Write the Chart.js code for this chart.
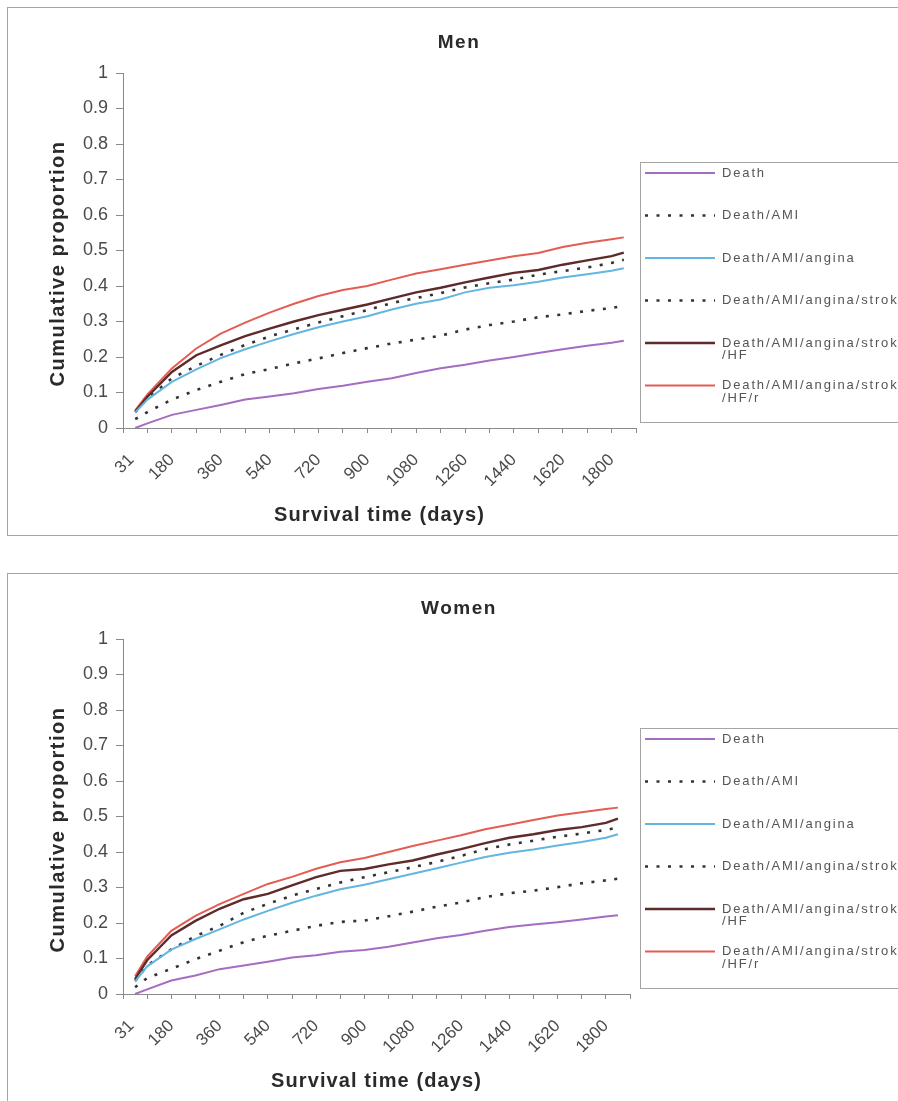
<!DOCTYPE html>
<html><head><meta charset="utf-8">
<script src="https://cdn.jsdelivr.net/npm/chart.js@4.4.1/dist/chart.umd.min.js"></script>
<style>
html,body{margin:0;padding:0;background:#fff;width:898px;height:1101px;overflow:hidden;position:relative;}
.box{position:absolute;left:7px;width:902px;height:527px;border:1px solid #a4a4a4;background:#fff;}
#boxMen{top:7px}
#boxWomen{top:573px}
canvas{display:block}
</style></head><body>
<div class="box" id="boxMen"><canvas id="men" width="902" height="527"></canvas></div>
<div class="box" id="boxWomen"><canvas id="women" width="902" height="527"></canvas></div>
<script>
// ---------- data ----------
const days = [45, 90, 180, 270, 360, 450, 540, 630, 720, 810, 900, 990, 1080, 1170, 1260, 1350, 1440, 1530, 1620, 1710, 1800, 1845];
const seriesNames = ['Death', 'Death/AMI', 'Death/AMI/angina', 'Death/AMI/angina/stroke', 'Death/AMI/angina/stroke/HF', 'Death/AMI/angina/stroke/HF/r'];
const xTickMarks = [0, 90, 180, 270, 360, 450, 540, 630, 720, 810, 900, 990, 1080, 1170, 1260, 1350, 1440, 1530, 1620, 1710, 1800, 1890];
const xTickLabels = ['31', '180', '360', '540', '720', '900', '1080', '1260', '1440', '1620', '1800'];

const menDeath  = [0.000,0.013,0.037,0.051,0.065,0.080,0.089,0.098,0.110,0.119,0.130,0.140,0.155,0.168,0.178,0.190,0.200,0.211,0.222,0.232,0.240,0.246];
const menAmi    = [0.025,0.045,0.080,0.107,0.130,0.152,0.166,0.182,0.196,0.211,0.225,0.238,0.249,0.260,0.277,0.290,0.300,0.312,0.320,0.330,0.338,0.344];
const menAngina = [0.044,0.080,0.130,0.165,0.197,0.222,0.244,0.265,0.284,0.300,0.315,0.334,0.350,0.362,0.382,0.395,0.402,0.412,0.424,0.433,0.443,0.450];
const menStroke = [0.045,0.083,0.140,0.175,0.206,0.234,0.258,0.278,0.297,0.315,0.332,0.352,0.366,0.380,0.396,0.408,0.418,0.432,0.442,0.452,0.465,0.474];
const menHf     = [0.046,0.088,0.158,0.205,0.233,0.259,0.280,0.300,0.318,0.333,0.348,0.365,0.382,0.395,0.410,0.424,0.437,0.445,0.460,0.472,0.484,0.494];
const menHfr    = [0.050,0.095,0.168,0.224,0.266,0.297,0.325,0.350,0.372,0.389,0.400,0.418,0.435,0.447,0.460,0.472,0.484,0.493,0.510,0.522,0.532,0.537];

const womenDeath  = [0.000,0.013,0.038,0.052,0.070,0.080,0.091,0.103,0.109,0.119,0.124,0.133,0.145,0.157,0.166,0.178,0.189,0.196,0.202,0.210,0.218,0.222];
const womenAmi    = [0.019,0.045,0.071,0.098,0.122,0.146,0.164,0.178,0.192,0.203,0.207,0.219,0.232,0.246,0.258,0.273,0.284,0.291,0.301,0.312,0.320,0.325];
const womenAngina = [0.035,0.078,0.125,0.155,0.182,0.210,0.234,0.257,0.277,0.295,0.308,0.323,0.339,0.354,0.370,0.386,0.398,0.407,0.418,0.428,0.440,0.450];
const womenStroke = [0.037,0.080,0.126,0.163,0.192,0.229,0.254,0.277,0.296,0.314,0.329,0.343,0.357,0.372,0.389,0.408,0.421,0.432,0.443,0.452,0.462,0.469];
const womenHf     = [0.042,0.095,0.165,0.206,0.240,0.267,0.282,0.306,0.329,0.347,0.352,0.365,0.376,0.393,0.408,0.425,0.440,0.450,0.462,0.470,0.482,0.494];
const womenHfr    = [0.050,0.105,0.178,0.220,0.253,0.282,0.310,0.330,0.353,0.371,0.383,0.400,0.417,0.432,0.447,0.464,0.477,0.490,0.503,0.512,0.521,0.525];

// ---------- styles ----------
const FONT = '"Liberation Sans", Arial, Helvetica, sans-serif';
Chart.defaults.font.family = FONT;
const lineStyles = [
  {color: '#a66cc0', width: 2, dash: []},
  {color: '#333333', width: 2.6, dash: [3, 8.5]},
  {color: '#62b6e0', width: 2, dash: []},
  {color: '#333333', width: 2.6, dash: [3, 8.5]},
  {color: '#5e2a2a', width: 2.4, dash: []},
  {color: '#e35d52', width: 2, dash: []}
];

function makeDatasets(series) {
  return series.map((vals, i) => ({
    label: seriesNames[i],
    data: days.map((d, j) => ({x: d, y: vals[j]})),
    borderColor: lineStyles[i].color,
    borderWidth: lineStyles[i].width,
    borderDash: lineStyles[i].dash,
    borderCapStyle: 'butt',
    pointRadius: 0,
    pointHoverRadius: 0,
    tension: 0,
    fill: false
  }));
}

const decor = {
  id: 'decor',
  afterDraw(chart, args, o) {
    const ctx = chart.ctx, ca = chart.chartArea;
    ctx.save();
    ctx.fillStyle = '#2a2a2a';
    ctx.textAlign = 'center';
    ctx.textBaseline = 'alphabetic';
    // chart title
    ctx.font = 'bold 19px ' + FONT;
    ctx.letterSpacing = '1.5px';
    ctx.fillText(o.title, o.titleX, o.titleY);
    // x title
    ctx.font = 'bold 20px ' + FONT;
    ctx.letterSpacing = '1.1px';
    ctx.fillText(o.xTitle, (ca.left + ca.right) / 2, o.xTitleY);
    // y title
    ctx.save();
    ctx.translate(o.yTitleX, (ca.top + ca.bottom) / 2 + o.yTitleShift);
    ctx.rotate(-Math.PI / 2);
    ctx.letterSpacing = '1.5px';
    ctx.fillText(o.yTitle, 0, 0);
    ctx.restore();
    // legend
    const L = o.legend;
    ctx.strokeStyle = '#a4a4a4';
    ctx.lineWidth = 1;
    ctx.strokeRect(L.left + 0.5, ca.top + L.top + 0.5, 400, L.height);
    ctx.font = '13px ' + FONT;
    ctx.letterSpacing = '1.85px';
    ctx.textAlign = 'left';
    ctx.textBaseline = 'middle';
    chart.data.datasets.forEach((ds, i) => {
      const y = ca.top + L.first + i * L.step;
      ctx.save();
      ctx.strokeStyle = ds.borderColor;
      ctx.lineWidth = ds.borderWidth;
      ctx.setLineDash(ds.borderDash || []);
      ctx.beginPath();
      ctx.moveTo(L.left + 5, y);
      ctx.lineTo(L.left + 75, y);
      ctx.stroke();
      ctx.restore();
      ctx.fillStyle = '#555';
      // wrap on '/' tokens
      const parts = ds.label.split('/');
      const lines = [];
      let cur = '';
      parts.forEach((p, k) => {
        const piece = (k === 0 ? '' : '/') + p;
        if (cur && ctx.measureText(cur + piece).width > L.maxText) { lines.push(cur); cur = piece; }
        else cur += piece;
      });
      lines.push(cur);
      lines.forEach((t, k) => ctx.fillText(t, L.left + 82, y + k * 12.5));
    });
    ctx.restore();
  }
};

function makeChart(id, series, title, rightPad) {
  return new Chart(document.getElementById(id), {
    type: 'line',
    data: {datasets: makeDatasets(series)},
    options: {
      responsive: false,
      animation: false,
      events: [],
      layout: {padding: {left: 0, top: 65, right: rightPad, bottom: 37}},
      plugins: {
        legend: {display: false},
        tooltip: {enabled: false},
        decor: {
          title: title, titleX: 451, titleY: 40,
          xTitle: 'Survival time (days)', xTitleY: 513,
          yTitle: 'Cumulative proportion', yTitleX: 56, yTitleShift: 13,
          legend: {left: 632, top: 89, height: 260, first: 100, step: 42.5, maxText: 190}
        }
      },
      scales: {
        x: {
          type: 'linear', min: 0, max: 1890,
          afterBuildTicks: (s) => {
            const vals = xTickMarks.concat(xTickLabels.map(Number)).filter((v, i, a) => a.indexOf(v) === i).sort((a, b) => a - b);
            s.ticks = vals.map(v => ({value: v}));
          },
          afterFit: (s) => { s.height = 70; s.paddingLeft = 0; s.paddingRight = 0; },
          border: {display: true, color: '#8a8a8a', width: 1},
          grid: {
            drawOnChartArea: false, drawTicks: true, tickLength: 5,
            tickColor: (c) => (c.tick && !xTickMarks.includes(c.tick.value)) ? 'rgba(0,0,0,0)' : '#8a8a8a'
          },
          ticks: {
            autoSkip: false, maxRotation: 45, minRotation: 45, padding: 17,
            color: '#4a4a4a', font: {size: 17},
            callback: (v) => xTickLabels.includes(String(v)) ? String(v) : ''
          }
        },
        y: {
          min: 0, max: 1,
          afterFit: (s) => { s.width = 115; s.paddingTop = 0; s.paddingBottom = 0; },
          border: {display: true, color: '#8a8a8a', width: 1},
          grid: {drawOnChartArea: false, drawTicks: true, tickLength: 7, tickColor: '#8a8a8a'},
          ticks: {
            stepSize: 0.1, padding: 8, color: '#4a4a4a', font: {size: 18},
            callback: (v) => String(Math.round(v * 10) / 10)
          }
        }
      }
    },
    plugins: [decor]
  });
}

makeChart('men', [menDeath, menAmi, menAngina, menStroke, menHf, menHfr], 'Men', 274);
makeChart('women', [womenDeath, womenAmi, womenAngina, womenStroke, womenHf, womenHfr], 'Women', 280);
</script>
</body></html>
